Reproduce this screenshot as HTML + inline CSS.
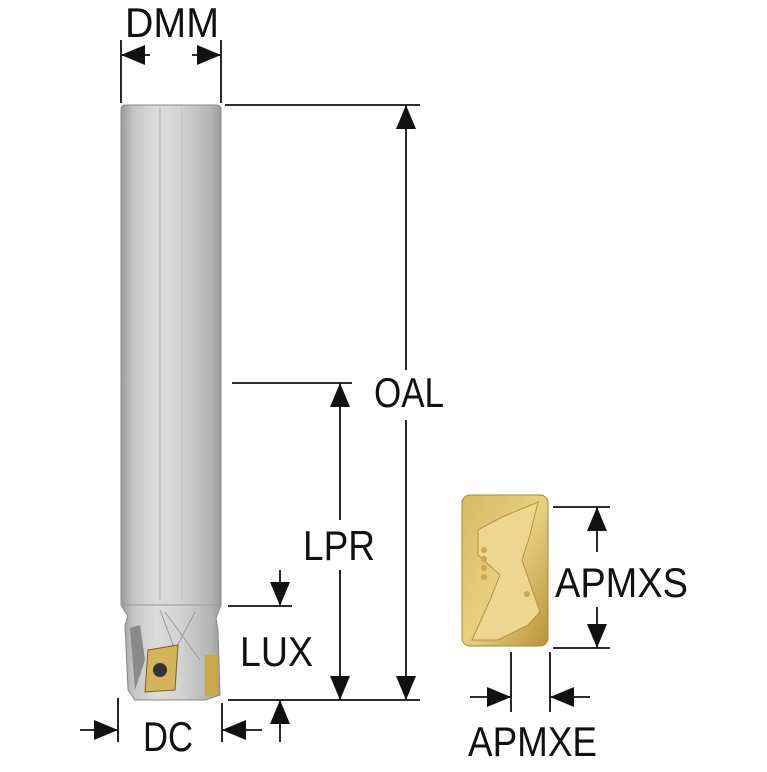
<!DOCTYPE html>
<html><head><meta charset="utf-8"><style>html,body{margin:0;padding:0;background:#fff}</style></head>
<body>
<svg width="767" height="767" viewBox="0 0 767 767" xmlns="http://www.w3.org/2000/svg" font-family="'Liberation Sans Narrow','Liberation Sans',sans-serif" fill="#111">
<defs>
<linearGradient id="sh" x1="0" x2="1" y1="0" y2="0">
<stop offset="0" stop-color="#9a9a9a"/><stop offset="0.12" stop-color="#c4c4c4"/><stop offset="0.35" stop-color="#dcdcdc"/><stop offset="0.6" stop-color="#d2d2d2"/><stop offset="0.9" stop-color="#b4b4b4"/><stop offset="1" stop-color="#9c9c9c"/>
</linearGradient>
<linearGradient id="gd" x1="0" x2="1" y1="0" y2="1">
<stop offset="0" stop-color="#d8b862"/><stop offset="0.5" stop-color="#e8cf80"/><stop offset="1" stop-color="#b8943a"/>
</linearGradient>
<marker id="a" viewBox="0 0 10 10" refX="10" refY="5" markerWidth="24" markerHeight="20" markerUnits="userSpaceOnUse" orient="auto" preserveAspectRatio="none"><path d="M0,0L10,5L0,10z" fill="#111"/></marker>
</defs>
<path d="M121,110 Q121,105 126,105 L216,105 Q221,105 221,110 L221,605 L216,618 L218,630 L220,695 L205,700 L135,700 L128,690 L125,625 L128,616 L121,605 Z" fill="url(#sh)" stroke="#888" stroke-width="1"/>
<line x1="160" y1="108" x2="160" y2="600" stroke="#aaa" stroke-width="1"/>
<line x1="182" y1="108" x2="182" y2="600" stroke="#bbb" stroke-width="1"/>
<line x1="121" y1="605" x2="221" y2="605" stroke="#999"/>
<path d="M160,610 L175,650 L195,612 M165,612 L200,660" stroke="#999" fill="none"/>
<path d="M130,628 L140,625 L145,660 L135,690 Z" fill="#8a8a8a"/>
<path d="M148,650 L178,645 L175,690 L145,692 Z" fill="#d2b45a" stroke="#7a6020"/>
<circle cx="160" cy="670" r="7" fill="#333"/>
<path d="M205,655 L218,655 L218,695 L205,697 Z" fill="#c9a84a"/>
<rect x="462" y="495" width="86" height="151" rx="8" fill="url(#gd)" stroke="#a88a3a"/>
<path d="M478,530 L500,518 L538,502 L530,535 L522,560 L540,612 L528,625 L498,640 L472,640 L490,600 L500,575 L478,555 Z" fill="#edd68f" stroke="#b0923e"/>
<g fill="#c8a850"><circle cx="484" cy="550" r="3"/><circle cx="484" cy="559" r="3"/><circle cx="484" cy="568" r="3"/><circle cx="484" cy="577" r="3"/><circle cx="527" cy="594" r="3"/></g>
<g stroke="#111" stroke-width="1.8" fill="none">
<line x1="121" y1="40" x2="121" y2="103"/><line x1="221" y1="40" x2="221" y2="103"/>
<line x1="150" y1="55" x2="121" y2="55" marker-end="url(#a)"/><line x1="192" y1="55" x2="221" y2="55" marker-end="url(#a)"/>
<line x1="225" y1="105" x2="420" y2="105"/>
<line x1="406" y1="370" x2="406" y2="105" marker-end="url(#a)"/><line x1="406" y1="420" x2="406" y2="700" marker-end="url(#a)"/>
<line x1="232" y1="383" x2="352" y2="383"/>
<line x1="340" y1="520" x2="340" y2="383" marker-end="url(#a)"/><line x1="340" y1="570" x2="340" y2="700" marker-end="url(#a)"/>
<line x1="228" y1="700" x2="420" y2="700"/>
<line x1="228" y1="606" x2="292" y2="606"/>
<line x1="280" y1="570" x2="280" y2="606" marker-end="url(#a)"/>
<line x1="280" y1="742" x2="280" y2="700" marker-end="url(#a)"/>
<line x1="118" y1="698" x2="118" y2="742"/><line x1="222" y1="703" x2="222" y2="742"/>
<line x1="80" y1="730" x2="118" y2="730" marker-end="url(#a)"/><line x1="262" y1="730" x2="222" y2="730" marker-end="url(#a)"/>
<line x1="553" y1="507" x2="610" y2="507"/><line x1="553" y1="648" x2="610" y2="648"/>
<line x1="597" y1="552" x2="597" y2="507" marker-end="url(#a)"/><line x1="597" y1="607" x2="597" y2="648" marker-end="url(#a)"/>
<line x1="511" y1="652" x2="511" y2="712"/><line x1="550" y1="652" x2="550" y2="712"/>
<line x1="470" y1="697" x2="511" y2="697" marker-end="url(#a)"/><line x1="590" y1="697" x2="550" y2="697" marker-end="url(#a)"/>
</g>
<g font-size="42">
<text x="125" y="37" textLength="94" lengthAdjust="spacingAndGlyphs">DMM</text>
<text x="374" y="407" textLength="70" lengthAdjust="spacingAndGlyphs">OAL</text>
<text x="303" y="560" textLength="72" lengthAdjust="spacingAndGlyphs">LPR</text>
<text x="240" y="666" textLength="73" lengthAdjust="spacingAndGlyphs">LUX</text>
<text x="143" y="751" textLength="50" lengthAdjust="spacingAndGlyphs">DC</text>
<text x="555" y="597" textLength="133" lengthAdjust="spacingAndGlyphs">APMXS</text>
<text x="468" y="756" textLength="129" lengthAdjust="spacingAndGlyphs">APMXE</text>
</g>
</svg>
</body></html>
